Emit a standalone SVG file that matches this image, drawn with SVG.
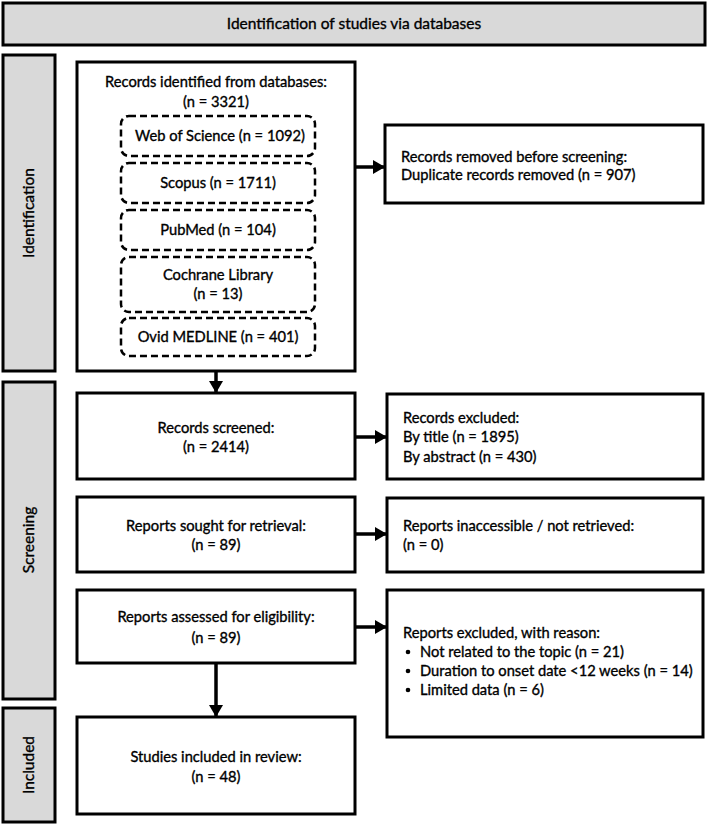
<svg xmlns="http://www.w3.org/2000/svg" width="708" height="824" viewBox="0 0 708 824">
<style>
text{font-family:Lato,"Liberation Sans",sans-serif;font-size:14.7px;fill:#000;stroke:#000;stroke-width:0.35}
.h{font-size:15.5px}
.s{font-size:15.5px}
.c{text-anchor:middle}
.box{fill:#fff;stroke:#000;stroke-width:3}
.side{fill:#d9d9d9;stroke:#000;stroke-width:3}
.dash{fill:#fff;stroke:#000;stroke-width:2.5;stroke-dasharray:7 4}
.conn{stroke:#000;stroke-width:3.5;fill:none;marker-end:url(#ah)}
</style>
<defs>
<marker id="ah" markerUnits="userSpaceOnUse" markerWidth="12" markerHeight="14" refX="12" refY="7" orient="auto">
<path d="M0,0 L12,7 L0,14 Z" fill="#000"/>
</marker>
</defs>
<rect width="708" height="824" fill="#fff"/>
<g id="header"><rect class="side" x="3" y="3" width="702" height="42"/><text class="c h" x="354" y="29">Identification of studies via databases</text></g>
<g id="phase-identification"><rect class="side" x="3" y="55" width="52" height="316"/><text class="c s" transform="translate(34,213) rotate(-90)">Identification</text></g>
<g id="phase-screening"><rect class="side" x="3" y="382" width="52" height="317"/><text class="c s" transform="translate(34,540) rotate(-90)">Screening</text></g>
<g id="phase-included"><rect class="side" x="3" y="708" width="52" height="114"/><text class="c s" transform="translate(34,765) rotate(-90)">Included</text></g>
<g id="identified">
<rect class="box" x="77" y="62" width="278" height="309"/>
<text class="c" x="216" y="87">Records identified from databases:</text>
<text class="c" x="216" y="107">(n = 3321)</text>
</g>
<g id="db-wos"><rect class="dash" x="121" y="116" width="194" height="40" rx="8"/><text class="c" x="220" y="141">Web of Science (n = 1092)</text></g>
<g id="db-scopus"><rect class="dash" x="121" y="163" width="194" height="40" rx="8"/><text class="c" x="218" y="188">Scopus (n = 1711)</text></g>
<g id="db-pubmed"><rect class="dash" x="121" y="210" width="194" height="40" rx="8"/><text class="c" x="218" y="235">PubMed (n = 104)</text></g>
<g id="db-cochrane"><rect class="dash" x="121" y="257" width="194" height="55" rx="8"/><text class="c" x="218" y="280">Cochrane Library</text><text class="c" x="218" y="299">(n = 13)</text></g>
<g id="db-ovid"><rect class="dash" x="121" y="318" width="194" height="38" rx="8"/><text class="c" x="218" y="342">Ovid MEDLINE (n = 401)</text></g>
<g id="removed">
<rect class="box" x="385" y="125" width="318" height="78"/>
<text x="401" y="162">Records removed before screening:</text>
<text x="401" y="180">Duplicate records removed (n = 907)</text>
</g>
<g id="screened">
<rect class="box" x="77" y="393" width="278" height="86"/>
<text class="c" x="216" y="433">Records screened:</text>
<text class="c" x="216" y="452">(n = 2414)</text>
</g>
<g id="excluded">
<rect class="box" x="387" y="394" width="316" height="85"/>
<text x="403" y="423">Records excluded:</text>
<text x="403" y="442">By title (n = 1895)</text>
<text x="403" y="462">By abstract (n = 430)</text>
</g>
<g id="sought">
<rect class="box" x="77" y="497" width="278" height="75"/>
<text class="c" x="216" y="531">Reports sought for retrieval:</text>
<text class="c" x="216" y="550">(n = 89)</text>
</g>
<g id="inaccessible">
<rect class="box" x="387" y="498" width="316" height="74"/>
<text x="403" y="531">Reports inaccessible / not retrieved:</text>
<text x="403" y="550">(n = 0)</text>
</g>
<g id="assessed">
<rect class="box" x="77" y="590" width="278" height="73"/>
<text class="c" x="216" y="622">Reports assessed for eligibility:</text>
<text class="c" x="216" y="643">(n = 89)</text>
</g>
<g id="reports-excluded">
<rect class="box" x="387" y="590" width="316" height="147"/>
<text x="403" y="638">Reports excluded, with reason:</text>
<circle cx="408" cy="652" r="2.3"/><text x="420" y="657">Not related to the topic (n = 21)</text>
<circle cx="408" cy="671" r="2.3"/><text x="420" y="676">Duration to onset date &lt;12 weeks (n = 14)</text>
<circle cx="408" cy="690" r="2.3"/><text x="420" y="695">Limited data (n = 6)</text>
</g>
<g id="studies">
<rect class="box" x="77" y="717" width="278" height="97"/>
<text class="c" x="216" y="762">Studies included in review:</text>
<text class="c" x="216" y="782">(n = 48)</text>
</g>
<g id="connectors">
<line class="conn" x1="355" y1="167" x2="385" y2="167"/>
<line class="conn" x1="216" y1="371" x2="216" y2="393"/>
<line class="conn" x1="355" y1="437" x2="387" y2="437"/>
<line class="conn" x1="355" y1="534" x2="387" y2="534"/>
<line class="conn" x1="355" y1="627" x2="387" y2="627"/>
<line class="conn" x1="216" y1="663" x2="216" y2="717"/>
</g>
</svg>
